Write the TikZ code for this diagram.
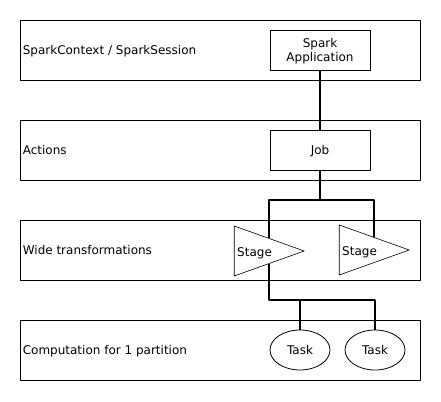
\documentclass[tikz,border=0pt]{standalone}
\usepackage{fontspec}
\setmainfont{DejaVu Sans}
\usetikzlibrary{shapes.geometric}
\begin{document}
\begin{tikzpicture}[x=1pt, y=-1pt, font=\fontsize{12}{14}\selectfont, line join=round, text depth=0pt,
		layer/.style={draw, line width=0.8pt, minimum width=400pt, minimum height=60pt, inner sep=0pt},
		layertext/.style={anchor=west, inner sep=3pt},
		box/.style={draw, line width=0.8pt, minimum width=100pt, minimum height=40pt, align=center, inner sep=0pt},
		stage/.style={draw, line width=0.6pt, isosceles triangle, isosceles triangle stretches, minimum width=50pt, minimum height=70pt, inner sep=0pt},
		task/.style={draw, line width=0.8pt, ellipse, minimum width=60pt, minimum height=40pt, inner sep=0pt},
		link/.style={line width=2pt}]
			\useasboundingbox (0,0) rectangle (441,401);
			\node[layer] (l1) at (220,50) {};
			\node[layer] (l2) at (220,150) {};
			\node[layer] (l3) at (220,250) {};
			\node[layer] (l4) at (220,350) {};
			\node[layertext] (l1txt) at (l1.west) {SparkContext / SparkSession};
			\node[layertext] (l2txt) at (l2.west) {Actions};
			\node[layertext] (l3txt) at (l3.west) {Wide transformations};
			\node[layertext] (l4txt) at (l4.west) {Computation for 1 partition};
			\node[box] (app) at (320,50) {Spark\\Application};
			\node[box] (job) at (320,150) {Job};
			\node[stage, anchor=apex] (st1) at (305,251) {};
			\node[stage, anchor=apex] (st2) at (410,250) {};
			\node[anchor=west, inner sep=2pt] (st1txt) at (235,252) {Stage};
			\node[anchor=west, inner sep=2pt] (st2txt) at (340,251) {Stage};
			\node[task] (t1) at (300,350) {Task};
			\node[task] (t2) at (375,350) {Task};
			\coordinate (fork1) at (320,200);
			\coordinate (fork2) at (320,300);
			\draw[link] (app) -- (job);
			\draw[link] (job) -- (fork1);
			\draw[link] (fork1) -| (st1.left side);
			\draw[link] (fork1) -| (st2.left side);
			\draw[link] (st1.right side) |- (fork2) -| (t2.north);
			\draw[link] (t1.north |- fork2) -- (t1.north);
		\end{tikzpicture}
\end{document}
